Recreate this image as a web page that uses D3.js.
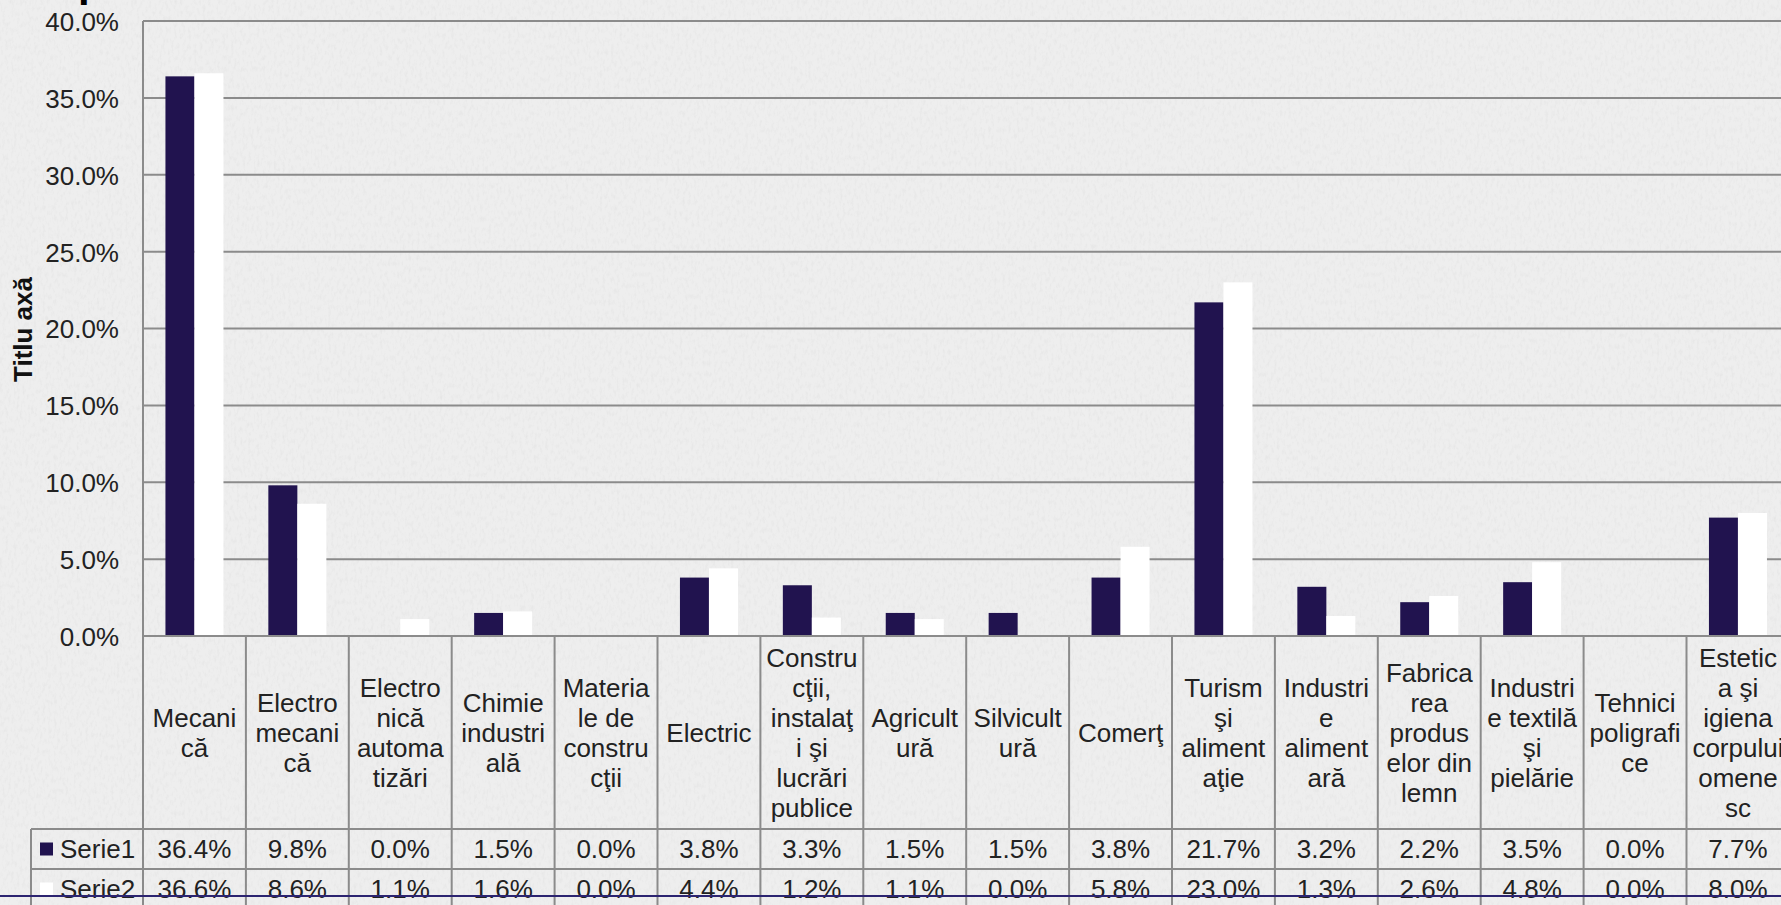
<!DOCTYPE html>
<html>
<head>
<meta charset="utf-8">
<script src="https://cdn.jsdelivr.net/npm/d3@7"></script>
<style>
  html, body { margin: 0; padding: 0; overflow: hidden; background: #ececec; }
  svg { display: block; }
  text { font-family: "Liberation Sans", Arial, sans-serif; }
</style>
</head>
<body>
<svg id="chart" width="1781" height="905"></svg>
<script>
// ---------- data ----------
const categories = [
  ["Mecani","că"],
  ["Electro","mecani","că"],
  ["Electro","nică","automa","tizări"],
  ["Chimie","industri","ală"],
  ["Materia","le de","constru","cţii"],
  ["Electric"],
  ["Constru","cţii,","instalaţ","i şi","lucrări","publice"],
  ["Agricult","ură"],
  ["Silvicult","ură"],
  ["Comerţ"],
  ["Turism","şi","aliment","aţie"],
  ["Industri","e","aliment","ară"],
  ["Fabrica","rea","produs","elor din","lemn"],
  ["Industri","e textilă","şi","pielărie"],
  ["Tehnici","poligrafi","ce"],
  ["Estetic","a şi","igiena","corpului","omene","sc"]
];
const seriesNames = ["Serie1", "Serie2"];
const serie1 = [36.4, 9.8, 0.0, 1.5, 0.0, 3.8, 3.3, 1.5, 1.5, 3.8, 21.7, 3.2, 2.2, 3.5, 0.0, 7.7];
const serie2 = [36.6, 8.6, 1.1, 1.6, 0.0, 4.4, 1.2, 1.1, 0.0, 5.8, 23.0, 1.3, 2.6, 4.8, 0.0, 8.0];
const yTicks = [0, 5, 10, 15, 20, 25, 30, 35, 40];
const yTickLabels = ["0.0%", "5.0%", "10.0%", "15.0%", "20.0%", "25.0%", "30.0%", "35.0%", "40.0%"];
const yAxisTitle = "Titlu axă";
const chartTitle = "p";

// ---------- layout ----------
const W = 1781, H = 905;
const plotLeft = 143, plotTop = 21, plotBottom = 636;
const catWidth = 102.9;
const plotRight = plotLeft + catWidth * categories.length;
const labelRowBottom = 829, row1Bottom = 869, row2Bottom = 909;
const tableLeft = 31;
const colors = { Serie1: "#21134f", Serie2: "#ffffff" };
const gridColor = "#8b8b8b";
const textColor = "#222222";
const fontSize = 26;

const svg = d3.select("#chart");

// background with subtle paper texture
const defs = svg.append("defs");
const filt = defs.append("filter").attr("id", "paper").attr("x", 0).attr("y", 0).attr("width", "100%").attr("height", "100%");
filt.append("feTurbulence").attr("type", "fractalNoise").attr("baseFrequency", "0.35 0.18").attr("numOctaves", 3).attr("seed", 7).attr("result", "noise");
filt.append("feColorMatrix").attr("type", "matrix")
  .attr("values", "0 0 0 0 0.6  0 0 0 0 0.6  0 0 0 0 0.6  0 0 0 -1.6 0.85");
svg.append("rect").attr("width", W).attr("height", H).attr("fill", "#eeeeee");
svg.append("rect").attr("width", W).attr("height", H).attr("filter", "url(#paper)").attr("opacity", 0.3);

// partially visible title (cut at the top edge)
svg.append("text").attr("x", 78).attr("y", -4).attr("font-size", 42).attr("font-weight", "bold")
  .attr("fill", "#000").text(chartTitle);

const idx = d3.range(categories.length);
const x0 = d3.scaleBand().domain(idx).range([plotLeft, plotRight]).padding(0);
const x1 = d3.scaleBand().domain(seriesNames).range([0, x0.bandwidth()]).paddingInner(0).paddingOuter(0.774);
const y = d3.scaleLinear().domain([0, 40]).range([plotBottom, plotTop]);

// gridlines
svg.append("g").selectAll("line").data(yTicks.filter(d => d > 0)).join("line")
  .attr("x1", plotLeft).attr("x2", W + 20)
  .attr("y1", d => y(d)).attr("y2", d => y(d))
  .attr("stroke", gridColor).attr("stroke-width", 2);

// y axis labels
const yAxis = d3.axisLeft(y).tickValues(yTicks).tickSize(0).tickPadding(24)
  .tickFormat((d, i) => yTickLabels[i]);
const ya = svg.append("g").attr("transform", `translate(${plotLeft},0)`).call(yAxis);
ya.select(".domain").remove();
ya.selectAll("text").attr("font-size", fontSize).attr("fill", textColor)
  .attr("font-family", "Liberation Sans, Arial, sans-serif").attr("dy", "0.36em");

// y axis title
svg.append("text")
  .attr("transform", `translate(32,${(plotTop + plotBottom) / 2 + 1}) rotate(-90)`)
  .attr("text-anchor", "middle").attr("font-weight", "bold").attr("font-size", fontSize)
  .attr("fill", "#111").text(yAxisTitle);

// bars
const data = idx.map(i => ({ i, vals: [{ s: "Serie1", v: serie1[i] }, { s: "Serie2", v: serie2[i] }] }));
const groups = svg.append("g").selectAll("g").data(data).join("g")
  .attr("transform", d => `translate(${x0(d.i)},0)`);
groups.selectAll("rect").data(d => d.vals).join("rect")
  .attr("x", d => x1(d.s)).attr("width", x1.bandwidth())
  .attr("y", d => y(d.v)).attr("height", d => y(0) - y(d.v))
  .attr("fill", d => colors[d.s]);

// table lines
const tl = svg.append("g").attr("stroke", gridColor).attr("stroke-width", 2);
tl.append("line").attr("x1", plotLeft).attr("x2", W + 20).attr("y1", plotBottom).attr("y2", plotBottom);
tl.append("line").attr("x1", plotLeft).attr("x2", plotLeft).attr("y1", plotTop).attr("y2", H + 10);
tl.selectAll("line.sep").data(idx.map(i => i + 1)).join("line").attr("class", "sep")
  .attr("x1", i => plotLeft + x0.step() * i).attr("x2", i => plotLeft + x0.step() * i)
  .attr("y1", plotBottom).attr("y2", H + 10);
[labelRowBottom, row1Bottom].forEach(yy => {
  tl.append("line").attr("x1", tableLeft).attr("x2", W + 20).attr("y1", yy).attr("y2", yy);
});
tl.append("line").attr("x1", tableLeft).attr("x2", tableLeft).attr("y1", labelRowBottom).attr("y2", H + 10);

// category labels
const lineH = 30;
const labelMid = (plotBottom + labelRowBottom) / 2;
const catG = svg.append("g").attr("font-size", fontSize).attr("fill", textColor).attr("text-anchor", "middle");
catG.selectAll("text").data(idx).join("text")
  .attr("x", i => x0(i) + x0.bandwidth() / 2)
  .each(function (i) {
    const lines = categories[i];
    const n = lines.length;
    d3.select(this).selectAll("tspan").data(lines).join("tspan")
      .attr("x", x0(i) + x0.bandwidth() / 2)
      .attr("y", (l, k) => labelMid + (k - (n - 1) / 2) * lineH + 9.3)
      .text(l => l);
  });

// value rows
const rows = [
  { name: "Serie1", vals: serie1, mid: (labelRowBottom + row1Bottom) / 2 },
  { name: "Serie2", vals: serie2, mid: (row1Bottom + row2Bottom) / 2 }
];
rows.forEach(r => {
  const g = svg.append("g").attr("font-size", fontSize).attr("fill", textColor);
  g.selectAll("text").data(r.vals).join("text")
    .attr("text-anchor", "middle")
    .attr("x", (v, i) => x0(i) + x0.bandwidth() / 2)
    .attr("y", r.mid + 9.3)
    .text(v => v.toFixed(1) + "%");
  g.append("rect").attr("x", 40).attr("y", r.mid - 6.5).attr("width", 13).attr("height", 13)
    .attr("fill", colors[r.name]);
  g.append("text").attr("x", 60).attr("y", r.mid + 9.3).text(r.name);
});

// bottom decorative line
svg.append("line").attr("x1", 0).attr("x2", W).attr("y1", 896).attr("y2", 896)
  .attr("stroke", "#2c2470").attr("stroke-width", 2);
</script>
</body>
</html>
